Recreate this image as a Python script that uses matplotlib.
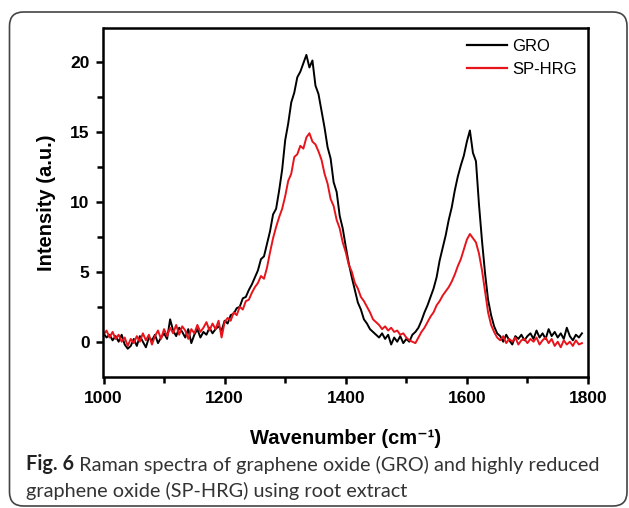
"""Raman spectra of GRO and SP-HRG (Fig. 6 recreation)."""

import numpy as np
import matplotlib
matplotlib.use("Agg")
import matplotlib.pyplot as plt
from matplotlib.patches import FancyBboxPatch
from matplotlib.lines import Line2D

plt.rcParams["font.family"] = ["Liberation Sans", "DejaVu Sans"]

# wavenumber grid, 5 cm-1 steps (1000 ... 1790)
wavenumber = np.arange(1000, 1795, 5)

# values, 10 per row (50 cm-1 per row)
gro = [
    0.6, 0.3, 0.5, 0.1, 0.4, 0.0, 0.5, -0.2, -0.5, -0.3,
    0.2, -0.3, 0.4, 0.0, -0.4, 0.3, 0.1, 0.5, -0.1, 0.3,
    0.6, 0.2, 1.6, 0.8, 0.4, 1.0, 0.7, 0.3, 0.9, -0.1,
    0.5, 0.9, 0.3, 0.7, 0.5, 1.0, 0.6, 0.9, 1.1, 0.8,
    1.5, 1.3, 1.9, 2.0, 2.4, 2.5, 3.1, 3.2, 3.7, 4.1,
    4.6, 5.1, 5.9, 6.1, 7.0, 7.9, 9.1, 9.5, 10.8, 12.3,
    14.4, 15.6, 17.1, 17.8, 18.9, 19.3, 19.9, 20.5, 19.6, 20.1,
    18.3, 17.7, 16.5, 15.3, 13.9, 13.1, 11.4, 10.7, 9.0, 8.1,
    6.8, 5.6, 4.6, 3.7, 2.8, 2.3, 1.6, 1.3, 0.9, 0.7,
    0.5, 0.3, 0.6, 0.2, 0.5, -0.2, 0.3, 0.0, 0.4, -0.1,
    0.2, 0.0, 0.5, 0.7, 1.0, 1.5, 2.1, 2.6, 3.2, 3.8,
    4.6, 5.8, 6.7, 7.6, 8.7, 9.6, 10.8, 11.8, 12.6, 13.3,
    14.3, 15.1, 13.5, 12.9, 9.8, 7.2, 4.9, 3.0, 1.9, 1.1,
    0.6, 0.4, 0.0, 0.5, 0.1, -0.2, 0.4, 0.2, 0.5, 0.1,
    0.4, 0.6, 0.2, 0.8, 0.3, 0.6, 0.2, 0.9, 0.4, 0.7,
    0.3, 0.6, 0.2, 1.0, 0.4, 0.1, 0.5, 0.3, 0.6,
]
sp_hrg = [
    0.5, 0.8, 0.3, 0.7, 0.2, 0.5, 0.0, 0.3, -0.3, 0.2,
    -0.1, 0.4, 0.0, 0.6, 0.1, 0.5, -0.2, 0.4, 0.8, 0.2,
    0.9, 0.4, 1.0, 0.6, 1.2, 0.5, 1.1, 0.8, 0.2, 0.9,
    0.6, 1.2, 0.7, 1.0, 1.4, 0.8, 1.3, 0.9, 1.5, 0.3,
    1.4, 1.7, 1.5, 2.1, 1.9, 2.5, 2.3, 2.9, 3.0, 3.5,
    3.9, 4.2, 4.7, 4.5, 5.3, 6.4, 7.4, 8.2, 8.9, 9.5,
    10.4, 11.5, 12.0, 13.2, 13.4, 14.0, 13.8, 14.6, 14.9, 14.3,
    14.1, 13.6, 13.0, 12.0, 11.3, 10.2, 9.7, 8.7, 8.1, 7.1,
    6.4, 5.5, 5.0, 4.2, 3.8, 3.2, 2.9, 2.5, 2.1, 1.6,
    1.4, 1.2, 0.9, 1.1, 0.8, 1.0, 0.7, 0.8, 0.5, 0.6,
    0.3, 0.1, 0.0, -0.1, 0.3, 0.7, 1.0, 1.4, 1.8, 2.1,
    2.6, 2.9, 3.3, 3.6, 3.9, 4.3, 4.8, 5.4, 5.9, 6.6,
    7.3, 7.7, 7.4, 7.1, 6.3, 5.1, 3.6, 2.1, 1.2, 0.7,
    0.3, 0.1, 0.4, -0.1, 0.2, 0.0, 0.3, -0.2, 0.1, 0.2,
    -0.1, 0.2, 0.0, 0.3, -0.2, 0.1, 0.3, -0.1, 0.2, -0.3,
    0.0, -0.4, 0.1, -0.2, 0.0, -0.3, 0.1, -0.2, -0.1,
]
series_labels = ["GRO", "SP-HRG"]
series_colors = ["black", "#e8141b"]
x_ticks = [1000, 1200, 1400, 1600, 1800]
y_ticks = [0, 5, 10, 15, 20]
caption_bold = "Fig. 6"
caption_line1 = " Raman spectra of graphene oxide (GRO) and highly reduced"
caption_line2 = "graphene oxide (SP-HRG) using root extract"

W, H = 629, 508
fig = plt.figure(figsize=(W / 100, H / 100), dpi=100)
ax = fig.add_axes([103.5 / W, 1 - 376.7 / H, 484.5 / W, 348.4 / H])

for vals, lab, col in zip([gro, sp_hrg], series_labels, series_colors):
    ax.plot(wavenumber, vals, color=col, lw=1.4, label=lab)

ax.set_xlim(1000, 1800)
ax.set_ylim(-2.5, 22.4)
ax.set_xticks(x_ticks)
ax.set_yticks(y_ticks)
ax.set_xticks([1100, 1300, 1500, 1700], minor=True)
ax.set_yticks([2.5, 7.5, 12.5, 17.5], minor=True)
ax.tick_params(which="both", direction="out", width=1.8, top=False, right=False)
ax.tick_params(which="major", length=5, labelsize=12.5, pad=5)
ax.tick_params(which="minor", length=4)
for lbl in ax.get_xticklabels() + ax.get_yticklabels():
    lbl.set_fontweight("bold")
for sp in ax.spines.values():
    sp.set_linewidth(1.8)

ax.set_xlabel("Wavenumber (cm\u207b\u00b9)", fontsize=14.5, fontweight="bold")
ax.xaxis.label.set_va("center")
ax.xaxis.set_label_coords(0.5, -(438 - 376.7) / 348.4)
ax.set_ylabel("Intensity (a.u.)", fontsize=14.5, fontweight="bold")
ax.yaxis.label.set_va("center")
ax.yaxis.set_label_coords(-(103.5 - 47) / 484.5, 0.5)

handles = [Line2D([], [], color=c, lw=1.6) for c in series_colors]
ax.legend(handles, series_labels, loc="upper right", frameon=False,
          fontsize=12, handlelength=2.4, handletextpad=0.35,
          labelspacing=0.45, borderaxespad=0.35, borderpad=0.3)

# caption panel with rounded border
box = FancyBboxPatch((9.5, 2), 617.5, 494, boxstyle="round,pad=0,rounding_size=14",
                     transform=None, fill=False, edgecolor="#444444", lw=1.2)
fig.patches.append(box)

cap_font = ["Lato", "DejaVu Sans"]
t = fig.text(26 / W, 38 / H, caption_bold, fontsize=14.3, fontweight="bold",
             family=cap_font, color="#222222", va="baseline")
ax.annotate(caption_line1, xy=(1, 0), xycoords=t, va="bottom", fontsize=14.3,
            family=cap_font, color="#333333", annotation_clip=False)
fig.text(26 / W, 11 / H, caption_line2, fontsize=14.3, family=cap_font,
         color="#333333", va="baseline")

fig.savefig("out.png", dpi=100)
